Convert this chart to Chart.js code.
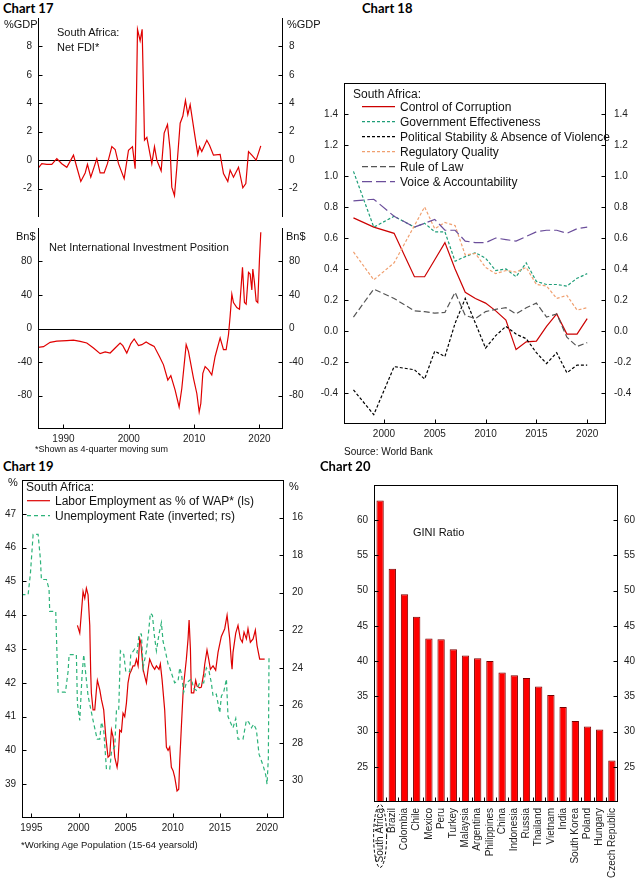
<!DOCTYPE html>
<html>
<head>
<meta charset="utf-8">
<script src="https://cdn.jsdelivr.net/npm/chart.js@4.4.0/dist/chart.umd.min.js"></script>
<style>
  body { margin: 0; background: #fff; }
  #page { position: relative; width: 640px; height: 882px; overflow: hidden; font-family: 'Liberation Sans', Arial, sans-serif; color: #111; }
  .box { position: absolute; }
  .t { position: absolute; white-space: nowrap; line-height: 1; z-index: 2; }
  .title { font-family: Lato, 'Liberation Sans', sans-serif; font-weight: bold; font-size: 13px; color: #000; }
  svg { position: absolute; left: 0; top: 0; z-index: 2; }
</style>
</head>
<body>
<div id="page">
  <div class="box" style="left:0;top:18px;width:320px;height:199px"><canvas id="c17a"></canvas></div>
  <div class="box" style="left:0;top:228px;width:320px;height:223px"><canvas id="c17b"></canvas></div>
  <div class="box" style="left:300px;top:83px;width:340px;height:362px"><canvas id="c18"></canvas></div>
  <div class="box" style="left:0;top:480px;width:320px;height:360px"><canvas id="c19"></canvas></div>
  <div class="box" style="left:340px;top:485px;width:300px;height:397px"><canvas id="c20"></canvas></div>

  <div class="t title" style="left:3px;top:2px">Chart 17</div>
  <div class="t title" style="left:362px;top:2px">Chart 18</div>
  <div class="t title" style="left:3px;top:460px">Chart 19</div>
  <div class="t title" style="left:320px;top:460px">Chart 20</div>

  <div class="t" style="left:4px;top:18.5px;font-size:11px">%GDP</div>
  <div class="t" style="left:287px;top:18.5px;font-size:11px">%GDP</div>
  <div class="t" style="left:57px;top:27px;font-size:11px">South Africa:</div>
  <div class="t" style="left:57px;top:41.5px;font-size:11px">Net FDI*</div>
  <div class="t" style="left:16px;top:230.5px;font-size:11px">Bn$</div>
  <div class="t" style="left:286px;top:230.5px;font-size:11px">Bn$</div>
  <div class="t" style="left:49px;top:241.5px;font-size:11px">Net International Investment Position</div>
  <div class="t" style="left:35px;top:445px;font-size:9px">*Shown as 4-quarter moving sum</div>

  <div class="t" style="left:353px;top:88px;font-size:12px">South Africa:</div>
  <div class="t" style="left:400px;top:100.7px;font-size:12px">Control of Corruption</div>
  <div class="t" style="left:400px;top:115.7px;font-size:12px">Government Effectiveness</div>
  <div class="t" style="left:400px;top:130.7px;font-size:12px">Political Stability &amp; Absence of Violence</div>
  <div class="t" style="left:400px;top:145.7px;font-size:12px">Regulatory Quality</div>
  <div class="t" style="left:400px;top:160.7px;font-size:12px">Rule of Law</div>
  <div class="t" style="left:400px;top:175.7px;font-size:12px">Voice &amp; Accountability</div>
  <div class="t" style="left:344px;top:447px;font-size:10px">Source: World Bank</div>

  <div class="t" style="left:8px;top:476.5px;font-size:11px">%</div>
  <div class="t" style="left:289px;top:480.5px;font-size:11px">%</div>
  <div class="t" style="left:26px;top:481px;font-size:12px">South Africa:</div>
  <div class="t" style="left:55px;top:494.7px;font-size:12px">Labor Employment as % of WAP* (ls)</div>
  <div class="t" style="left:55px;top:509.7px;font-size:12px">Unemployment Rate (inverted; rs)</div>
  <div class="t" style="left:21px;top:840px;font-size:9.5px">*Working Age Population (15-64 yearsold)</div>

  <div class="t" style="left:413px;top:526.5px;font-size:11px">GINI Ratio</div>

  <svg width="640" height="882">
    <line x1="362" x2="395" y1="106.7" y2="106.7" stroke="#cc0000" stroke-width="1.2"/>
    <line x1="362" x2="395" y1="121.7" y2="121.7" stroke="#1f9e78" stroke-width="1.2" stroke-dasharray="3 2"/>
    <line x1="362" x2="395" y1="136.7" y2="136.7" stroke="#000" stroke-width="1.2" stroke-dasharray="3 2"/>
    <line x1="362" x2="395" y1="151.7" y2="151.7" stroke="#f0a070" stroke-width="1.2" stroke-dasharray="3 2"/>
    <line x1="362" x2="395" y1="166.7" y2="166.7" stroke="#555" stroke-width="1.2" stroke-dasharray="6 3"/>
    <line x1="362" x2="395" y1="181.7" y2="181.7" stroke="#6b4e9b" stroke-width="1.2" stroke-dasharray="10 4"/>
    <line x1="27" x2="50" y1="500.7" y2="500.7" stroke="#dd0000" stroke-width="1.2"/>
    <line x1="27" x2="50" y1="515.7" y2="515.7" stroke="#2db37a" stroke-width="1.2" stroke-dasharray="4 3"/>
  </svg>
</div>

<script>
// Chart 17: net FDI (% of GDP, 4Q sum) and net international investment position (Bn$)
const fdiYears = [1986.07, 1986.68, 1987.45, 1988.21, 1988.98, 1989.74, 1990.51, 1991.53, 1992.04, 1992.65,
  1993.32, 1993.67, 1994.18, 1995.10, 1995.61, 1996.22, 1996.73, 1997.40, 1997.91, 1998.42,
  1999.29, 1999.95, 2000.56, 2000.97, 2001.12, 2001.33, 2001.73, 2002.04, 2002.30, 2002.40,
  2002.76, 2003.52, 2003.93, 2004.29, 2004.95, 2005.41, 2005.92, 2006.33, 2006.58, 2006.99,
  2007.35, 2007.86, 2008.27, 2008.67, 2009.03, 2009.39, 2010.15, 2010.56, 2010.82, 2011.17,
  2011.94, 2012.35, 2012.96, 2013.98, 2014.49, 2015.15, 2015.51, 2016.02, 2016.79, 2017.45,
  2017.91, 2018.32, 2018.83, 2019.49, 2020.20];
const fdiValues = [-0.6, -0.25, -0.3, -0.3, 0.1, -0.25, -0.5, 0.35, -0.5, -1.5,
  -0.9, -0.3, -1.2, 0.1, -0.9, -0.9, -0.25, 0.95, 0.75, -0.25,
  -1.3, 0.7, 0.95, -0.6, 3.0, 9.2, 8.4, 9.2, 3.8, 1.4,
  1.6, -0.25, 0.95, 0.0, -0.75, 1.9, 2.5, 0.7, -1.9, -2.5,
  -0.5, 2.6, 3.1, 4.2, 3.2, 3.9, 1.6, 0.4, 0.95, 0.6,
  1.4, 1.05, 0.35, 0.4, -0.95, -1.5, -0.7, -1.2, -0.5, -1.95,
  -1.65, 0.6, 0.35, 0.0, 1.0];
const niipYears = [1986.07, 1986.94, 1987.96, 1988.98, 1990.51, 1991.53, 1992.55, 1993.57, 1994.59, 1995.61,
  1996.38, 1997.14, 1997.91, 1998.67, 1999.08, 1999.69, 2000.31, 2000.82, 2001.48, 2001.99,
  2002.65, 2003.27, 2003.88, 2004.69, 2005.31, 2005.97, 2006.43, 2007.09, 2007.70, 2008.11,
  2008.78, 2009.13, 2009.90, 2010.41, 2010.77, 2011.02, 2011.33, 2011.68, 2012.19, 2012.70,
  2013.21, 2013.98, 2014.49, 2014.90, 2015.26, 2015.51, 2015.77, 2016.02, 2016.53, 2016.94,
  2017.40, 2017.70, 2017.96, 2018.32, 2018.57, 2018.83, 2018.98, 2019.23, 2019.49, 2019.74,
  2020.00, 2020.20];
const niipValues = [-22.5, -21.7, -16.5, -15, -14.5, -14, -15.3, -17.3, -23.3, -30,
  -28, -29.3, -23.3, -17.3, -20.5, -29.3, -18, -12.5, -20.5, -19.3,
  -16, -19, -21.3, -33.4, -43.4, -61.5, -56.3, -73.6, -93.7, -71.6,
  -19.3, -27.3, -59.5, -77.6, -99.7, -89.6, -53.5, -45.4, -49.4, -55.5,
  -33.4, -11.3, -25.3, -25.3, -7.2, 14.9, 41, 31, 25, 23,
  73, 31, 29, 67, 65, 46, 71, 55, 33, 31,
  83, 115];

// Chart 18: World Bank governance indicators
const wgiYears = [1997, 1999, 2001, 2003, 2004, 2005, 2006, 2007, 2008, 2009, 2010,
  2011, 2012, 2013, 2014, 2015, 2016, 2017, 2018, 2019, 2020];
const corruption = [0.73, 0.67, 0.63, 0.35, 0.35, 0.46, 0.57, 0.40, 0.25, 0.21, 0.18,
  0.13, 0.07, -0.12, -0.07, -0.065, 0.03, 0.11, -0.02, -0.02, 0.08];
const govEffect = [1.03, 0.67, 0.74, 0.67, 0.695, 0.64, 0.64, 0.45, 0.48, 0.505, 0.47,
  0.39, 0.40, 0.35, 0.44, 0.32, 0.30, 0.30, 0.29, 0.34, 0.37];
const polStability = [-0.38, -0.54, -0.23, -0.25, -0.31, -0.13, -0.165, 0.05, 0.21, 0.05, -0.11,
  -0.03, 0.03, -0.02, -0.05, -0.14, -0.21, -0.14, -0.27, -0.22, -0.22];
const regQuality = [0.51, 0.33, 0.44, 0.68, 0.80, 0.66, 0.70, 0.68, 0.49, 0.50, 0.41,
  0.37, 0.39, 0.38, 0.41, 0.30, 0.29, 0.21, 0.23, 0.135, 0.15];
const ruleOfLaw = [0.09, 0.27, 0.21, 0.13, 0.125, 0.115, 0.12, 0.25, 0.10, 0.08, 0.125,
  0.14, 0.15, 0.11, 0.15, 0.18, 0.09, 0.11, -0.04, -0.10, -0.075];
const voiceAcc = [0.84, 0.85, 0.74, 0.67, 0.695, 0.72, 0.65, 0.65, 0.58, 0.57, 0.57,
  0.60, 0.59, 0.58, 0.61, 0.64, 0.65, 0.65, 0.63, 0.66, 0.67];

// Chart 19: employment ratio (ls) and unemployment rate (rs, inverted)
const empYears = [1999.88, 2000.13, 2000.48, 2000.66, 2000.83, 2001.01, 2001.19, 2001.29, 2001.36, 2001.54,
  2001.72, 2001.90, 2002.00, 2002.25, 2002.43, 2002.67, 2002.89, 2003.13, 2003.31, 2003.49,
  2003.66, 2003.84, 2004.09, 2004.19, 2004.37, 2004.55, 2004.72, 2004.90, 2005.08, 2005.25,
  2005.43, 2005.61, 2005.78, 2005.96, 2006.14, 2006.32, 2006.49, 2006.60, 2006.67, 2006.85,
  2007.02, 2007.20, 2007.38, 2007.55, 2007.84, 2008.08, 2008.26, 2008.54, 2008.68, 2008.86,
  2009.14, 2009.32, 2009.50, 2009.67, 2009.85, 2010.03, 2010.21, 2010.45, 2010.63, 2010.74,
  2010.91, 2011.09, 2011.20, 2011.44, 2011.62, 2011.73, 2011.87, 2011.97, 2012.22, 2012.43,
  2012.57, 2012.86, 2013.03, 2013.28, 2013.39, 2013.63, 2013.81, 2013.99, 2014.27, 2014.55,
  2014.80, 2015.15, 2015.51, 2015.76, 2016.04, 2016.22, 2016.29, 2016.39, 2016.68, 2016.92,
  2017.17, 2017.38, 2017.56, 2017.81, 2017.98, 2018.23, 2018.52, 2018.76, 2018.94, 2019.22,
  2019.75];
const empValues = [43.7, 43.47, 44.7, 44.5, 44.8, 44.6, 43.7, 42.3, 41.7, 41.2,
  41.2, 41.8, 42.07, 41.8, 41.5, 41.2, 40.4, 39.8, 39.85, 40.6,
  40.4, 39.8, 39.5, 39.7, 40.6, 40.55, 41.1, 41.0, 41.4, 42.0,
  42.27, 42.37, 42.5, 42.5, 42.7, 42.5, 43.3, 43.2, 43.0, 42.4,
  42.2, 42.0, 42.4, 42.7, 42.5, 42.4, 42.5, 42.4, 42.56, 42.1,
  41.2, 40.1, 40.0, 40.1, 39.5, 39.4, 39.2, 38.8, 38.85, 39.7,
  40.7, 41.7, 42.07, 42.7, 43.3, 43.86, 43.0, 41.7, 41.7, 42.07,
  41.9, 41.85, 41.87, 42.27, 42.55, 42.97, 42.7, 42.4, 42.5, 42.37,
  42.9, 43.37, 43.6, 44.0, 43.3, 42.6, 42.4, 42.9, 43.47, 43.7,
  43.3, 43.2, 43.5, 43.3, 43.6, 43.2, 43.3, 43.56, 43.1, 42.7,
  42.7];
const unempYears = [1993.94, 1994.65, 1994.89, 1995.18, 1995.71, 1995.95, 1996.06, 1996.59, 1996.87, 1996.94,
  1997.58, 1997.83, 1998.61, 1998.89, 1999.00, 1999.77, 1999.88, 2000.13, 2000.37, 2000.55,
  2000.76, 2001.01, 2001.54, 2001.97, 2002.25, 2002.43, 2002.67, 2002.96, 2003.31, 2003.49,
  2003.84, 2004.02, 2004.26, 2004.44, 2004.80, 2005.01, 2005.43, 2005.54, 2005.96, 2006.21,
  2006.42, 2006.67, 2006.85, 2007.20, 2007.41, 2007.62, 2007.84, 2008.05, 2008.26, 2008.54,
  2008.79, 2008.97, 2009.25, 2009.50, 2009.67, 2010.20, 2010.56, 2010.74, 2010.91, 2011.16,
  2011.44, 2011.97, 2012.22, 2012.50, 2012.86, 2013.28, 2013.56, 2013.85, 2014.09, 2014.27,
  2014.62, 2014.98, 2015.16, 2015.40, 2015.69, 2015.86, 2016.11, 2016.39, 2016.68, 2016.92,
  2017.45, 2017.81, 2018.06, 2018.34, 2018.59, 2018.87, 2019.15, 2019.58, 2019.86, 2020.00,
  2020.14, 2020.21];
const unempValues = [20.1, 20.1, 19.0, 16.9, 16.9, 18.2, 19.3, 19.3, 19.8, 21.0,
  21.0, 25.3, 25.3, 24.2, 23.3, 23.3, 25.9, 26.8, 24.4, 23.3,
  24.3, 25.5, 26.8, 27.8, 27.8, 26.9, 27.3, 29.4, 29.4, 28.5,
  28.2, 26.3, 26.3, 23.1, 23.3, 24.2, 24.2, 23.3, 23.0, 23.2,
  22.2, 22.2, 24.0, 23.1, 22.2, 21.1, 21.2, 22.3, 23.1, 22.2,
  21.6, 22.6, 23.2, 23.8, 24.0, 24.8, 24.7, 24.0, 24.3, 25.3,
  24.8, 24.6, 25.1, 25.2, 24.8, 24.8, 24.0, 24.2, 24.8, 25.5,
  25.4, 26.4, 25.5, 25.3, 24.6, 26.6, 26.9, 27.2, 26.7, 27.8,
  27.8, 26.8, 26.9, 27.2, 27.0, 27.3, 28.6, 29.2, 29.7, 30.2,
  28.8, 23.4];

// Chart 20: GINI ratio
const giniCountries = ['South Africa', 'Brazil', 'Colombia', 'Chile', 'Mexico', 'Peru', 'Turkey', 'Malaysia',
  'Argentina', 'Philippines', 'China', 'Indonesia', 'Russia', 'Thailand', 'Vietnam', 'India',
  'South Korea', 'Poland', 'Hungary', 'Czech Republic'];
const giniValues = [62.8, 53.1, 49.5, 46.3, 43.2, 43.1, 41.7, 40.8, 40.4, 40.0,
  38.4, 38.0, 37.6, 36.4, 35.2, 33.5, 31.5, 30.7, 30.3, 25.9];

Chart.defaults.font.family = "'Liberation Sans', Arial, sans-serif";
Chart.defaults.font.size = 10;
Chart.defaults.color = '#222';
Chart.defaults.animation = false;

const pts = (xs, ys) => xs.map((x, i) => ({ x, y: ys[i] }));
const hideEnds = (lo, hi, f = v => String(v)) => v =>
  (Math.abs(v - lo) < 1e-6 || Math.abs(v - hi) < 1e-6) ? '' : f(v);
const fixW = w => s => { s.width = w; s.paddingTop = 0; s.paddingBottom = 0; };
const fixH = h => s => { s.height = h; s.paddingLeft = 0; s.paddingRight = 0; };
const setTicks = vals => s => { s.ticks = vals.map(value => ({ value })); };

// frame, inward tick marks, zero line, ellipse
const deco = {
  id: 'deco',
  beforeDatasetsDraw(chart, args, o) {
    if (!o.zero) return;
    const { ctx, chartArea: a } = chart;
    const y = Math.round(chart.scales.y.getPixelForValue(0)) + 0.5;
    ctx.save();
    ctx.strokeStyle = '#000'; ctx.lineWidth = 1;
    ctx.beginPath(); ctx.moveTo(a.left, y); ctx.lineTo(a.right, y); ctx.stroke();
    ctx.restore();
  },
  afterDatasetsDraw(chart, args, o) {
    const { ctx, chartArea: a } = chart;
    const L = Math.round(a.left) + 0.5, R = Math.round(a.right) - 0.5;
    const T = Math.round(a.top) + 0.5, B = Math.round(a.bottom) - 0.5;
    const sides = o.sides || 'lrtb', len = 4;
    ctx.save();
    ctx.strokeStyle = '#000'; ctx.lineWidth = 1; ctx.setLineDash([]);
    ctx.beginPath();
    if (sides.includes('l')) { ctx.moveTo(L, a.top); ctx.lineTo(L, a.bottom); }
    if (sides.includes('r')) { ctx.moveTo(R, a.top); ctx.lineTo(R, a.bottom); }
    if (sides.includes('t')) { ctx.moveTo(a.left, T); ctx.lineTo(a.right, T); }
    if (sides.includes('b')) { ctx.moveTo(a.left, B); ctx.lineTo(a.right, B); }
    Object.values(chart.scales).forEach(s => {
      if (!s.options.display) return;
      if (s.type === 'category') {
        const n = s.ticks.length, w = (a.right - a.left) / n;
        for (let i = 1; i < n; i++) {
          const x = Math.round(a.left + i * w) + 0.5;
          ctx.moveTo(x, B); ctx.lineTo(x, B - len);
        }
        return;
      }
      s.ticks.forEach(t => {
        if (t.label === '') return;
        const p = Math.round(s.getPixelForValue(t.value)) + 0.5;
        if (s.position === 'left') { ctx.moveTo(L, p); ctx.lineTo(L + len, p); }
        else if (s.position === 'right') { ctx.moveTo(R, p); ctx.lineTo(R - len, p); }
        else { ctx.moveTo(p, B); ctx.lineTo(p, B - len); }
      });
    });
    ctx.stroke();
    if (o.ellipse) {
      const x0 = chart.scales.x.getPixelForValue(0);
      ctx.setLineDash([3, 2]);
      ctx.beginPath();
      ctx.ellipse(x0, a.bottom + 34, 6.5, 31.5, 0, 0, Math.PI * 2);
      ctx.stroke();
    }
    ctx.restore();
  }
};

function yAxis(pos, min, max, step, w, fmt, extra) {
  return Object.assign({
    position: pos, min, max,
    grid: { display: false, drawTicks: false },
    border: { display: false },
    ticks: { stepSize: step, padding: 6, callback: hideEnds(min, max, fmt) },
    afterFit: fixW(w)
  }, extra || {});
}
function xAxis(min, max, tickVals, h, show) {
  return {
    type: 'linear', min, max, display: show,
    grid: { display: false, drawTicks: false },
    border: { display: false },
    ticks: { padding: 4, callback: v => String(v), maxRotation: 0 },
    afterBuildTicks: setTicks(tickVals),
    afterFit: fixH(h)
  };
}
const lineDs = (data, color, dash, axis) => ({
  data, borderColor: color, borderWidth: 1.2, borderDash: dash || [],
  pointRadius: 0, tension: 0, fill: false, yAxisID: axis || 'y'
});
const common = (sides, extra) => ({
  responsive: true, maintainAspectRatio: false,
  layout: { padding: 0 },
  plugins: { legend: { display: false }, tooltip: { enabled: false }, deco: Object.assign({ sides }, extra || {}) }
});

// Chart 17 top: Net FDI
new Chart(document.getElementById('c17a'), {
  type: 'line',
  data: { datasets: [lineDs(pts(fdiYears, fdiValues), '#e00000')] },
  options: Object.assign(common('lr', { zero: true }), {
    scales: {
      x: xAxis(1986.1, 2023.6, [1990, 2000, 2010, 2020], 0, false),
      y: yAxis('left', -4, 10, 2, 38),
      y2: yAxis('right', -4, 10, 2, 37)
    }
  }),
  plugins: [deco]
});

// Chart 17 bottom: NIIP
new Chart(document.getElementById('c17b'), {
  type: 'line',
  data: { datasets: [lineDs(pts(niipYears, niipValues), '#e00000')] },
  options: Object.assign(common('lrb', { zero: true }), {
    scales: {
      x: xAxis(1986.1, 2023.6, [1990, 2000, 2010, 2020], 22, true),
      y: yAxis('left', -120, 120, 40, 38),
      y2: yAxis('right', -120, 120, 40, 37)
    }
  }),
  plugins: [deco]
});

// Chart 18: governance indicators
const f1 = v => Math.abs(v) < 1e-9 ? '0.0' : v.toFixed(1);
new Chart(document.getElementById('c18'), {
  type: 'line',
  data: {
    datasets: [
      lineDs(pts(wgiYears, voiceAcc), '#6b4e9b', [10, 4]),
      lineDs(pts(wgiYears, ruleOfLaw), '#555555', [6, 3]),
      lineDs(pts(wgiYears, regQuality), '#f0a070', [3, 2]),
      lineDs(pts(wgiYears, polStability), '#000000', [3, 2]),
      lineDs(pts(wgiYears, govEffect), '#1f9e78', [3, 2]),
      lineDs(pts(wgiYears, corruption), '#cc0000')
    ]
  },
  options: Object.assign(common('lrtb'), {
    scales: {
      x: xAxis(1996.07, 2021.85, [2000, 2005, 2010, 2015, 2020], 21, true),
      y: yAxis('left', -0.6, 1.6, 0.2, 44, f1),
      y2: yAxis('right', -0.6, 1.6, 0.2, 34, f1, { ticks: { stepSize: 0.2, padding: 8, callback: hideEnds(-0.6, 1.6, f1) } })
    }
  }),
  plugins: [deco]
});

// Chart 19: employment vs unemployment
new Chart(document.getElementById('c19'), {
  type: 'line',
  data: {
    datasets: [
      lineDs(pts(unempYears, unempValues), '#2db37a', [4, 3], 'yr'),
      lineDs(pts(empYears, empValues), '#dd0000')
    ]
  },
  options: Object.assign(common('lrtb'), {
    scales: {
      x: xAxis(1994, 2021.8, [1995, 2000, 2005, 2010, 2015, 2020], 22, true),
      y: yAxis('left', 38, 48, 1, 22),
      yr: yAxis('right', 14, 32, 2, 36, undefined, { reverse: true, ticks: { stepSize: 2, padding: 8, callback: hideEnds(14, 32) } })
    }
  }),
  plugins: [deco]
});

// Chart 20: GINI ratio
new Chart(document.getElementById('c20'), {
  type: 'bar',
  data: {
    labels: giniCountries,
    datasets: [{
      data: giniValues, backgroundColor: '#ff0000', borderColor: '#7a0000', borderWidth: 1,
      barPercentage: 0.6, categoryPercentage: 1
    }]
  },
  options: Object.assign(common('lrtb', { ellipse: true }), {
    scales: {
      x: {
        grid: { display: false, drawTicks: false }, border: { display: false },
        ticks: { padding: 6, minRotation: 90, maxRotation: 90, autoSkip: false },
        afterFit: fixH(80)
      },
      y: yAxis('left', 20, 65, 5, 34),
      y2: yAxis('right', 20, 65, 5, 22)
    }
  }),
  plugins: [deco]
});
</script>
</body>
</html>
